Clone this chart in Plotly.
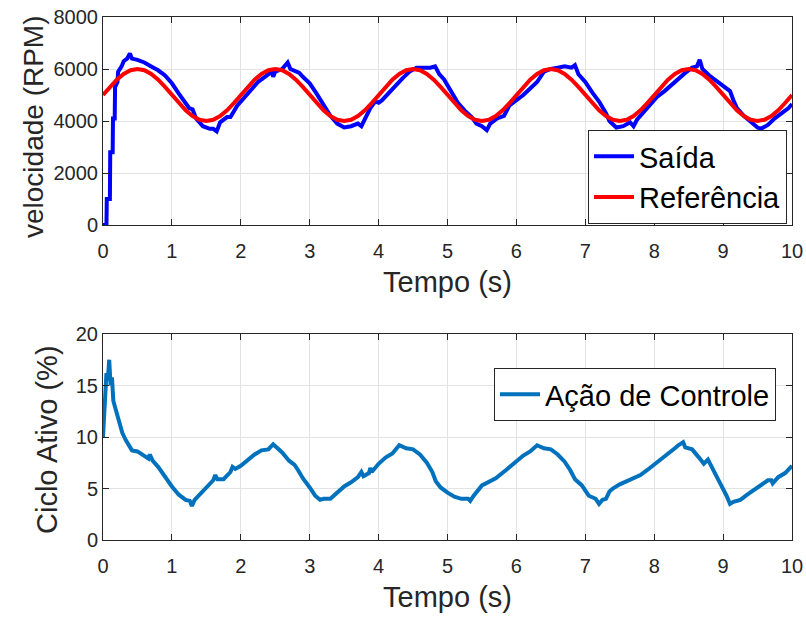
import plotly.graph_objects as go
from plotly.subplots import make_subplots

# ---- Data ----
t_ref = [round(i * 0.1, 1) for i in range(101)]
ref_rpm = [5000, 5309, 5588, 5809, 5951, 6000, 5951, 5809, 5588, 5309,
           5000, 4691, 4412, 4191, 4049, 4000, 4049, 4191, 4412, 4691,
           5000, 5309, 5588, 5809, 5951, 6000, 5951, 5809, 5588, 5309,
           5000, 4691, 4412, 4191, 4049, 4000, 4049, 4191, 4412, 4691,
           5000, 5309, 5588, 5809, 5951, 6000, 5951, 5809, 5588, 5309,
           5000, 4691, 4412, 4191, 4049, 4000, 4049, 4191, 4412, 4691,
           5000, 5309, 5588, 5809, 5951, 6000, 5951, 5809, 5588, 5309,
           5000, 4691, 4412, 4191, 4049, 4000, 4049, 4191, 4412, 4691,
           5000, 5309, 5588, 5809, 5951, 6000, 5951, 5809, 5588, 5309,
           5000, 4691, 4412, 4191, 4049, 4000, 4049, 4191, 4412, 4691,
           5000]

t_out = [0.00, 0.05, 0.055, 0.10, 0.105, 0.14, 0.145, 0.17, 0.175, 0.21, 0.22, 0.27, 0.30, 0.35, 0.39,
         0.42, 0.50, 0.60, 0.70, 0.80, 0.90, 1.00, 1.10, 1.20, 1.25, 1.30, 1.35, 1.45, 1.55, 1.60,
         1.65, 1.70, 1.80, 1.85, 1.88, 1.95, 2.05, 2.15, 2.25, 2.35, 2.45, 2.47, 2.50, 2.60, 2.68,
         2.72, 2.80, 2.85, 2.90, 3.00, 3.10, 3.20, 3.30, 3.40, 3.50, 3.60, 3.70, 3.75, 3.80, 3.88,
         3.95, 4.00, 4.05, 4.15, 4.25, 4.35, 4.45, 4.55, 4.65, 4.75, 4.82, 4.88, 4.95, 5.05, 5.15,
         5.25, 5.35, 5.42, 5.50, 5.57, 5.62, 5.72, 5.82, 5.90, 6.00, 6.10, 6.20, 6.30, 6.40, 6.50,
         6.60, 6.70, 6.80, 6.85, 6.90, 7.00, 7.10, 7.20, 7.30, 7.35, 7.45, 7.55, 7.65, 7.70, 7.75,
         7.85, 7.95, 8.05, 8.15, 8.25, 8.35, 8.45, 8.55, 8.62, 8.66, 8.70, 8.80, 8.90, 9.00, 9.10,
         9.15, 9.20, 9.30, 9.40, 9.50, 9.55, 9.65, 9.75, 9.85, 9.95, 10.0]
saida_rpm = [0, 0, 1000, 1000, 2800, 2800, 4100, 4100, 5300, 5500, 5900, 6100, 6300, 6400, 6600,
             6400, 6350, 6250, 6100, 5950, 5750, 5450, 5050, 4700, 4500, 4450, 4100, 3800, 3700, 3700,
             3600, 3950, 4150, 4150, 4300, 4600, 4900, 5200, 5500, 5700, 5900, 5700, 5900, 6000, 6250,
             6000, 5900, 5850, 5700, 5450, 5050, 4600, 4200, 3900, 3750, 3800, 3900, 3800, 4100, 4500,
             4750, 4700, 4800, 5100, 5400, 5650, 5900, 6050, 6050, 6050, 6100, 5800, 5600, 5150, 4700,
             4400, 4150, 3900, 3800, 3650, 3900, 4100, 4200, 4600, 4800, 5000, 5250, 5500, 5900, 6000,
             6050, 6100, 6050, 6150, 5800, 5500, 5100, 4750, 4300, 4000, 3750, 3800, 3950, 3800, 4050,
             4350, 4650, 4950, 5150, 5400, 5650, 5850, 6050, 6100, 6350, 6000, 5750, 5550, 5350, 5150,
             4800, 4500, 4200, 3950, 3750, 3700, 3850, 4100, 4300, 4500, 4650]

t_ctrl = [0.00, 0.03, 0.05, 0.07, 0.09, 0.11, 0.13, 0.15, 0.18, 0.22, 0.25, 0.28, 0.33, 0.38, 0.42,
          0.50, 0.60, 0.66, 0.68, 0.72, 0.80, 0.90, 1.00, 1.10, 1.20, 1.26, 1.29, 1.33, 1.40, 1.50,
          1.60, 1.63, 1.66, 1.75, 1.85, 1.88, 1.92, 2.00, 2.10, 2.20, 2.30, 2.40, 2.47, 2.52, 2.60,
          2.70, 2.78, 2.83, 2.90, 3.00, 3.08, 3.15, 3.20, 3.30, 3.40, 3.50, 3.60, 3.70, 3.75, 3.78,
          3.86, 3.88, 3.90, 4.00, 4.10, 4.20, 4.30, 4.40, 4.50, 4.60, 4.70, 4.78, 4.83, 4.90, 5.00,
          5.10, 5.20, 5.30, 5.33, 5.38, 5.50, 5.55, 5.60, 5.70, 5.85, 6.00, 6.10, 6.20, 6.30, 6.40,
          6.50, 6.60, 6.70, 6.78, 6.85, 6.95, 7.05, 7.15, 7.20, 7.25, 7.30, 7.35, 7.40, 7.50, 7.60,
          7.70, 7.80, 7.90, 8.00, 8.10, 8.20, 8.30, 8.35, 8.42, 8.45, 8.55, 8.65, 8.72, 8.78, 8.85,
          8.95, 9.05, 9.10, 9.15, 9.25, 9.35, 9.45, 9.55, 9.65, 9.70, 9.72, 9.80, 9.90, 10.0]
ctrl_pct = [10.0, 14.0, 16.2, 15.5, 17.5, 15.0, 15.8, 13.5, 12.8, 11.6, 11.2, 10.4, 9.7, 9.2, 8.7,
            8.6, 8.2, 7.9, 8.3, 7.7, 7.1, 6.1, 5.2, 4.4, 3.9, 3.8, 3.3, 3.9, 4.4, 5.2,
            5.8, 6.3, 5.9, 5.9, 6.6, 7.1, 6.9, 7.2, 7.8, 8.3, 8.7, 8.8, 9.3, 9.0, 8.5,
            7.7, 7.3, 6.8, 6.0, 5.1, 4.3, 3.9, 4.0, 4.0, 4.6, 5.2, 5.6, 6.1, 6.6, 6.2,
            6.5, 7.0, 6.6, 7.4, 8.0, 8.4, 9.2, 8.9, 8.8, 8.3, 7.5, 6.6, 5.7, 5.1, 4.6,
            4.2, 4.0, 4.0, 3.8, 4.3, 5.3, 5.5, 5.7, 6.0, 6.8, 7.6, 8.2, 8.6, 9.2, 8.9,
            8.8, 8.3, 7.6, 6.8, 5.9, 5.3, 4.3, 4.0, 3.5, 3.9, 4.0, 4.7, 5.0, 5.4, 5.7,
            6.1, 6.3, 6.8, 7.3, 7.8, 8.3, 8.9, 9.2, 9.5, 9.0, 8.8, 8.0, 7.4, 7.8, 6.8,
            5.6, 4.3, 3.5, 3.7, 3.9, 4.4, 4.9, 5.4, 5.8, 5.8, 5.5, 6.1, 6.5, 7.2]

x_ticks = [0, 1, 2, 3, 4, 5, 6, 7, 8, 9, 10]
rpm_ticks = [0, 2000, 4000, 6000, 8000]
pct_ticks = [0, 5, 10, 15, 20]

# ---- Figure ----
W, H = 806, 618
L, R, T, B = 103, 14, 17, 78
pw = W - L - R
ph = H - T - B
fig = make_subplots(rows=2, cols=1, shared_xaxes=False, vertical_spacing=0.0)

fig.add_trace(go.Scatter(x=t_out, y=saida_rpm, mode="lines", name="Saída",
                         line=dict(color="#0000FF", width=4), legend="legend"), row=1, col=1)
fig.add_trace(go.Scatter(x=t_ref, y=ref_rpm, mode="lines", name="Referência",
                         line=dict(color="#FF0000", width=4), legend="legend"), row=1, col=1)
fig.add_trace(go.Scatter(x=t_ctrl, y=ctrl_pct, mode="lines", name="Ação de Controle",
                         line=dict(color="#0072BD", width=4), legend="legend2"), row=2, col=1)

font_family = "Liberation Sans, Arial, sans-serif"
tick_font = dict(family=font_family, size=20, color="#262626")
xtitle_font = dict(family=font_family, size=29, color="#262626")
ytitle_font = dict(family=font_family, size=28, color="#262626")
ytitle_font2 = dict(family=font_family, size=29, color="#262626")

axis_common = dict(showline=True, linecolor="#262626", linewidth=1, mirror="allticks",
                   ticks="inside", ticklen=6, tickcolor="#262626", showgrid=True,
                   gridcolor="#e3e3e3", gridwidth=1, zeroline=False, tickfont=tick_font,
                   automargin=False)

fig.update_layout(
    width=W, height=H,
    margin=dict(l=L, r=R, t=T, b=B),
    paper_bgcolor="white", plot_bgcolor="white",
    font=dict(family=font_family, color="#262626"),
    xaxis=dict(domain=[0, 1], range=[0, 10], tickvals=x_ticks, anchor="y", ticklabelstandoff=8,
               title=dict(text="Tempo (s)", font=xtitle_font, standoff=10), **axis_common),
    yaxis=dict(domain=[1 - 208 / ph, 1], range=[0, 8000], tickvals=rpm_ticks, anchor="x",
               **axis_common),
    xaxis2=dict(domain=[0, 1], range=[0, 10], tickvals=x_ticks, anchor="y2", ticklabelstandoff=8,
                title=dict(text="Tempo (s)", font=xtitle_font, standoff=10), **axis_common),
    yaxis2=dict(domain=[0, 206 / ph], range=[0, 20], tickvals=pct_ticks, anchor="x2",
                **axis_common),
    legend=dict(x=(787 - L) / pw, xanchor="right", y=(H - B - 130) / ph, yanchor="top",
                bgcolor="white", bordercolor="#262626", borderwidth=1,
                font=dict(family=font_family, size=29, color="#000000"),
                tracegroupgap=0, itemwidth=40),
    legend2=dict(x=(776 - L) / pw, xanchor="right", y=(H - B - 368) / ph, yanchor="top",
                 bgcolor="white", bordercolor="#262626", borderwidth=1,
                 font=dict(family=font_family, size=29, color="#000000"), itemwidth=40),
    showlegend=True,
)

# y-axis titles placed as annotations (pixel-matched positions)
fig.add_annotation(text="velocidade (RPM)", textangle=-90, xref="paper", yref="paper",
                   x=(33 - L) / pw, y=(H - B - 127) / ph, xanchor="center", yanchor="middle",
                   showarrow=False, font=ytitle_font)
fig.add_annotation(text="Ciclo Ativo (%)", textangle=-90, xref="paper", yref="paper",
                   x=(47 - L) / pw, y=(H - B - 440) / ph, xanchor="center", yanchor="middle",
                   showarrow=False, font=ytitle_font2)

fig.write_html("out.html", config={"displayModeBar": False},
               post_script="document.body.style.margin='0px';")
